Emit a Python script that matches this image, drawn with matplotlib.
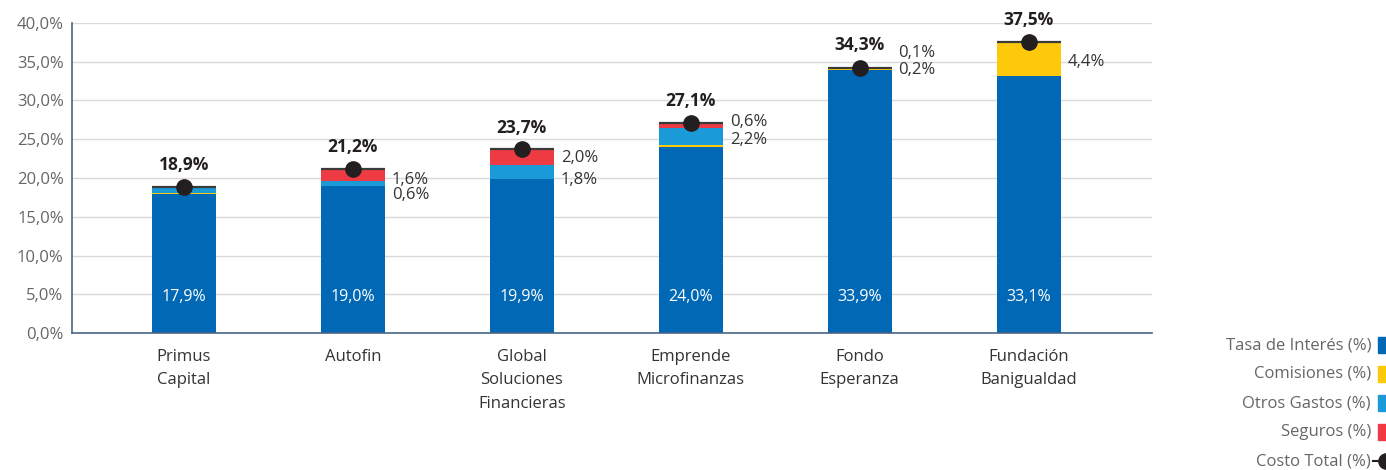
import matplotlib.pyplot as plt
from matplotlib.lines import Line2D
from matplotlib.patches import Rectangle

plt.rcParams['font.family'] = ['Open Sans', 'DejaVu Sans']

# Datos
instituciones = ["Primus\nCapital", "Autofin", "Global\nSoluciones\nFinancieras",
                 "Emprende\nMicrofinanzas", "Fondo\nEsperanza", "Fundación\nBanigualdad"]
tasa = [17.9, 19.0, 19.9, 24.0, 33.9, 33.1]
comisiones = [0.2, 0.0, 0.0, 0.3, 0.2, 4.4]
otros = [0.7, 0.6, 1.8, 2.2, 0.0, 0.0]
seguros = [0.1, 1.6, 2.0, 0.6, 0.1, 0.0]
costo_total = [18.9, 21.2, 23.7, 27.1, 34.3, 37.5]

# etiquetas laterales (texto, y en %)
lat_sup = [None, "1,6%", "2,0%", "0,6%", "0,1%", "4,4%"]
lat_inf = [None, "0,6%", "1,8%", "2,2%", "0,2%", None]
y_sup = [None, 19.7, 22.6, 27.2, 36.1, 34.9]
y_inf = [None, 17.8, 19.7, 24.9, 33.9, None]

c_tasa = '#0068B4'
c_com = '#FFC90B'
c_otros = '#1A9AD6'
c_seg = '#EE3A43'
c_total = '#231F20'

fig = plt.figure(figsize=(13.86, 4.70), dpi=100)
ax = fig.add_axes([72/1386, 1 - 333.3/470, (1152-72)/1386, 310.6/470])

x = list(range(len(instituciones)))
w = 0.38
b1 = tasa
b2 = [a + b for a, b in zip(b1, comisiones)]
b3 = [a + b for a, b in zip(b2, otros)]
tops = [a + b for a, b in zip(b3, seguros)]

ax.bar(x, tasa, w, color=c_tasa, zorder=2)
ax.bar(x, comisiones, w, bottom=b1, color=c_com, zorder=2)
ax.bar(x, otros, w, bottom=b2, color=c_otros, zorder=2)
ax.bar(x, seguros, w, bottom=b3, color=c_seg, zorder=2)
ax.hlines(tops, [i - w/2 for i in x], [i + w/2 for i in x], color='#3a3a3a', lw=1.6, zorder=3)
ax.plot(x, tops, 'o', color=c_total, ms=11, zorder=4)

for i in x:
    ax.text(i, 4.7, f"{tasa[i]:.1f}%".replace('.', ','), color='white', ha='center', va='center',
            fontsize=11.5, zorder=5)
    ax.text(i, costo_total[i] + 2.8, f"{costo_total[i]:.1f}%".replace('.', ','), color=c_total,
            ha='center', va='center', fontsize=12.5, fontweight='bold', zorder=5, clip_on=False)
    if lat_sup[i]:
        ax.text(i + w/2 + 0.04, y_sup[i], lat_sup[i], color='#333333', ha='left', va='center', fontsize=12)
    if lat_inf[i]:
        ax.text(i + w/2 + 0.04, y_inf[i], lat_inf[i], color='#333333', ha='left', va='center', fontsize=12)

ax.set_ylim(0, 40)
ax.set_xlim(-0.663, 5.73)
ax.set_yticks(range(0, 41, 5))
ax.set_yticklabels([f"{v:.1f}%".replace('.', ',') for v in range(0, 41, 5)], color='#666666', fontsize=12)
ax.set_xticks(x)
ax.set_xticklabels(instituciones, color='#333333', fontsize=12, linespacing=1.65)
ax.tick_params(length=0, pad=6)
ax.tick_params(axis='x', pad=11)
ax.grid(axis='y', color='#D9D9D9', lw=1, zorder=0)
for s in ['top', 'right']:
    ax.spines[s].set_visible(False)
for s in ['left', 'bottom']:
    ax.spines[s].set_color('#4A6585')
    ax.spines[s].set_linewidth(1.2)

# leyenda
leyenda = [("Tasa de Interés (%)", c_tasa), ("Comisiones (%)", c_com),
           ("Otros Gastos (%)", c_otros), ("Seguros (%)", c_seg), ("Costo Total (%)", None)]
for k, (txt, col) in enumerate(leyenda):
    yp = 1 - (345 + 29*k)/470
    fig.text(1371/1386, yp, txt, ha='right', va='center', color='#666666', fontsize=12)
    if col:
        fig.patches.append(Rectangle((1378/1386, yp - 8/470), 8/1386, 16/470, color=col,
                                     transform=fig.transFigure, figure=fig))
    else:
        fig.lines.append(Line2D([1373/1386, 1386/1386], [yp, yp], color=c_total, lw=1.5,
                                transform=fig.transFigure))
        fig.lines.append(Line2D([1386/1386], [yp], marker='o', ms=11, color=c_total,
                                transform=fig.transFigure))

fig.savefig('out.png', dpi=100)
